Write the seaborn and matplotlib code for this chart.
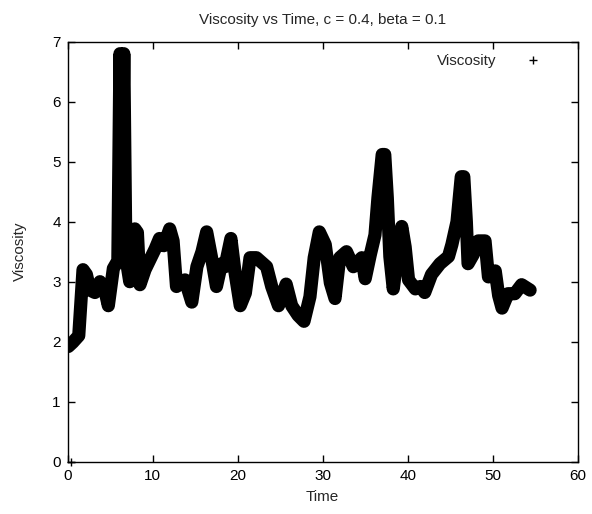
import matplotlib
matplotlib.use("Agg")
import matplotlib.pyplot as plt
from matplotlib.lines import Line2D
import seaborn as sns
import pandas as pd

title = "Viscosity vs Time, c = 0.4, beta = 0.1"
x_label = "Time"
y_label = "Viscosity"
series_name = "Viscosity"

time = [0.07, 0.6, 1.3, 1.8, 2.2, 2.62, 3.2, 3.8, 4.3, 4.78, 5.37, 5.9, 6.15, 6.4, 6.6, 6.85,
        7.3, 7.6, 7.9, 8.2, 8.5, 9.1, 10.3, 10.8, 11.3, 12.0, 12.4, 12.8, 13.8, 14.6, 15.2,
        15.8, 16.35, 16.9, 17.5, 18.1, 18.5, 19.2, 19.7, 20.3, 20.9, 21.45, 22.2, 23.4, 24.0,
        24.8, 25.7, 26.35, 27.1, 27.8, 28.5, 29.0, 29.6, 30.3, 30.9, 31.45, 32.0, 32.8, 33.6,
        34.6, 35.0, 35.6, 36.15, 36.5, 37.0, 37.3, 37.6, 37.9, 38.3, 38.9, 39.3, 39.7, 40.1,
        40.9, 41.5, 42.0, 42.8, 43.8, 44.8, 45.2, 45.8, 46.3, 46.6, 46.9, 47.1, 47.7, 48.3,
        49.1, 49.5, 50.3, 50.7, 51.1, 51.8, 52.6, 53.4, 54.4]
viscosity = [1.92, 1.99, 2.1, 3.2, 3.12, 2.86, 2.82, 3.0, 2.9, 2.6, 3.22, 3.35, 6.8, 4.6, 6.8, 3.4,
             3.0, 3.6, 3.88, 3.82, 2.95, 3.2, 3.55, 3.72, 3.6, 3.88, 3.68, 2.92, 3.03, 2.66, 3.25,
             3.5, 3.83, 3.42, 2.92, 3.3, 3.25, 3.72, 3.14, 2.6, 2.81, 3.4, 3.4, 3.25, 2.92,
             2.6, 2.96, 2.6, 2.44, 2.34, 2.75, 3.4, 3.83, 3.62, 2.98, 2.72, 3.4, 3.5, 3.25,
             3.4, 3.05, 3.45, 3.78, 4.4, 5.12, 5.12, 4.4, 3.42, 2.88, 3.55, 3.92, 3.58, 3.03,
             2.88, 2.92, 2.82, 3.12, 3.3, 3.42, 3.62, 4.0, 4.75, 4.75, 4.0, 3.3, 3.45, 3.68,
             3.68, 3.08, 3.18, 2.77, 2.56, 2.8, 2.8, 2.95, 2.86]
first_time = [0.44]
first_visc = [0.0]

x_ticks = [0, 10, 20, 30, 40, 50, 60]
y_ticks = [0, 1, 2, 3, 4, 5, 6, 7]

sns.set_theme(style="ticks")
plt.rcParams["font.family"] = ["Liberation Sans", "DejaVu Sans"]

df = pd.DataFrame({"Time": time, "Viscosity": viscosity})
df0 = pd.DataFrame({"Time": first_time, "Viscosity": first_visc})

fig = plt.figure(figsize=(5.92, 5.14), dpi=100)
ax = fig.add_axes([67.7 / 592, 1 - 461.7 / 514, 510 / 592, 420 / 514])

sns.lineplot(data=df, x="Time", y="Viscosity", ax=ax, color="black", linewidth=9.5,
             solid_joinstyle="round", solid_capstyle="round", sort=False, legend=False)
sns.scatterplot(data=df0, x="Time", y="Viscosity", ax=ax, marker="+", color="black",
                s=40, linewidth=1, legend=False, clip_on=False)

ax.set_xlim(0, 60)
ax.set_ylim(0, 7)
ax.set_xticks(x_ticks)
ax.set_yticks(y_ticks)
ax.tick_params(direction="in", length=5, width=1, top=True, right=True,
               labelsize=11, colors="black", pad=5)
for s in ax.spines.values():
    s.set_visible(True)
    s.set_color("black")
    s.set_linewidth(1)

ax.set_xlabel(x_label, fontsize=11, labelpad=5)
ax.set_ylabel(y_label, fontsize=11, labelpad=18)
ax.set_title(title, fontsize=11, pad=13)

handle = Line2D([], [], marker="+", linestyle="none", color="black", markersize=6)
ax.legend([handle], [series_name], loc="upper right", frameon=False, markerfirst=False,
          fontsize=11, borderaxespad=0.4, handletextpad=1.4, borderpad=0.4,
          bbox_to_anchor=(0.966, 1.0))

fig.savefig("out.png", dpi=100)
